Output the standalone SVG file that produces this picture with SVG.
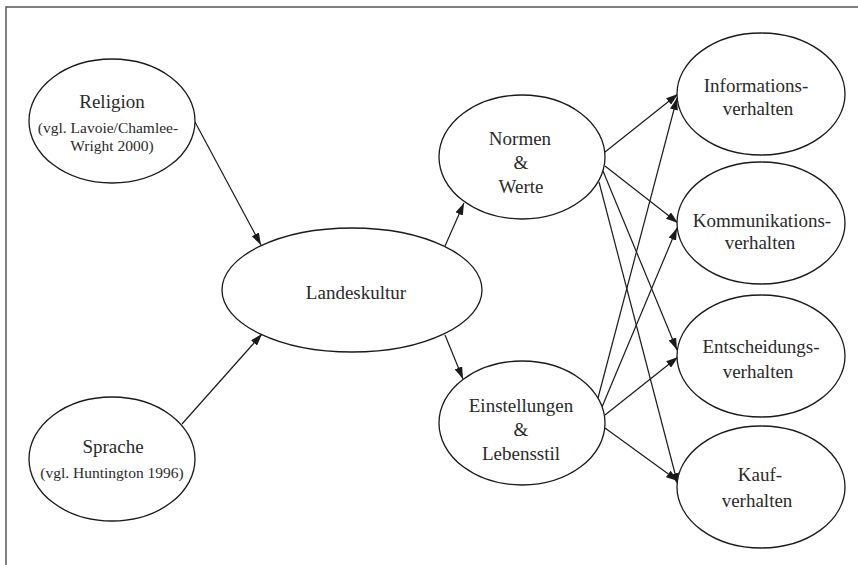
<svg xmlns="http://www.w3.org/2000/svg" width="858" height="565" viewBox="0 0 858 565">
<defs>
<marker id="ah" viewBox="0 0 12 8" refX="12" refY="4" markerWidth="12" markerHeight="8" markerUnits="userSpaceOnUse" orient="auto">
<path d="M0,0 L12,4 L0,8 Z" fill="#1a1a1a"/>
</marker>
</defs>
<style>
.bg{fill:#fff}
.frame{stroke:#555;stroke-width:1.5;fill:none}
.n ellipse{fill:#fff;stroke:#1a1a1a;stroke-width:1.3}
.n text{font-family:"Liberation Serif","Times New Roman",serif;font-size:19px;fill:#2a2a2a;text-anchor:middle}
.n text.s{font-size:15.5px}
.c line{stroke:#1a1a1a;stroke-width:1.2;marker-end:url(#ah)}
</style>
<rect class="bg" x="0" y="0" width="858" height="565"/>
<path class="frame" d="M6,565 V7 H858"/>
<g class="c" id="connectors">
<line x1="195" y1="122" x2="261" y2="245"/>
<line x1="182" y1="424" x2="262" y2="334"/>
<line x1="445" y1="246" x2="464" y2="203"/>
<line x1="445" y1="335" x2="463" y2="379"/>
<line x1="605" y1="152" x2="678" y2="94"/>
<line x1="605" y1="166" x2="678" y2="223"/>
<line x1="603" y1="171" x2="677" y2="350"/>
<line x1="599" y1="182" x2="678" y2="485"/>
<line x1="598" y1="398" x2="677" y2="98"/>
<line x1="602" y1="407" x2="677" y2="228"/>
<line x1="605" y1="415" x2="678" y2="357"/>
<line x1="605" y1="428" x2="678" y2="481"/>
</g>
<g class="n" id="religion">
<ellipse cx="112" cy="121" rx="83" ry="62"/>
<text x="112" y="108">Religion</text>
<text class="s" x="108" y="133">(vgl. Lavoie/Chamlee-</text>
<text class="s" x="112" y="151">Wright 2000)</text>
</g>
<g class="n" id="sprache">
<ellipse cx="112" cy="459" rx="83" ry="62"/>
<text x="113" y="453">Sprache</text>
<text class="s" x="112" y="478">(vgl. Huntington 1996)</text>
</g>
<g class="n" id="landeskultur">
<ellipse cx="352" cy="290" rx="130" ry="62"/>
<text x="356" y="299">Landeskultur</text>
</g>
<g class="n" id="normen">
<ellipse cx="522" cy="157" rx="83" ry="62"/>
<text x="520" y="145">Normen</text>
<text x="521" y="169">&amp;</text>
<text x="521" y="193">Werte</text>
</g>
<g class="n" id="einstellungen">
<ellipse cx="522" cy="423" rx="83" ry="62"/>
<text x="521" y="412">Einstellungen</text>
<text x="521" y="436">&amp;</text>
<text x="521" y="460">Lebensstil</text>
</g>
<g class="n" id="informations">
<ellipse cx="761" cy="94" rx="84" ry="61"/>
<text x="756" y="92">Informations-</text>
<text x="758" y="115">verhalten</text>
</g>
<g class="n" id="kommunikations">
<ellipse cx="761" cy="223" rx="84" ry="61"/>
<text x="762" y="227">Kommunikations-</text>
<text x="760" y="249">verhalten</text>
</g>
<g class="n" id="entscheidungs">
<ellipse cx="761" cy="356" rx="84" ry="61"/>
<text x="761" y="353">Entscheidungs-</text>
<text x="758" y="378">verhalten</text>
</g>
<g class="n" id="kauf">
<ellipse cx="761" cy="487" rx="84" ry="61"/>
<text x="760" y="481">Kauf-</text>
<text x="757" y="507">verhalten</text>
</g>
</svg>
